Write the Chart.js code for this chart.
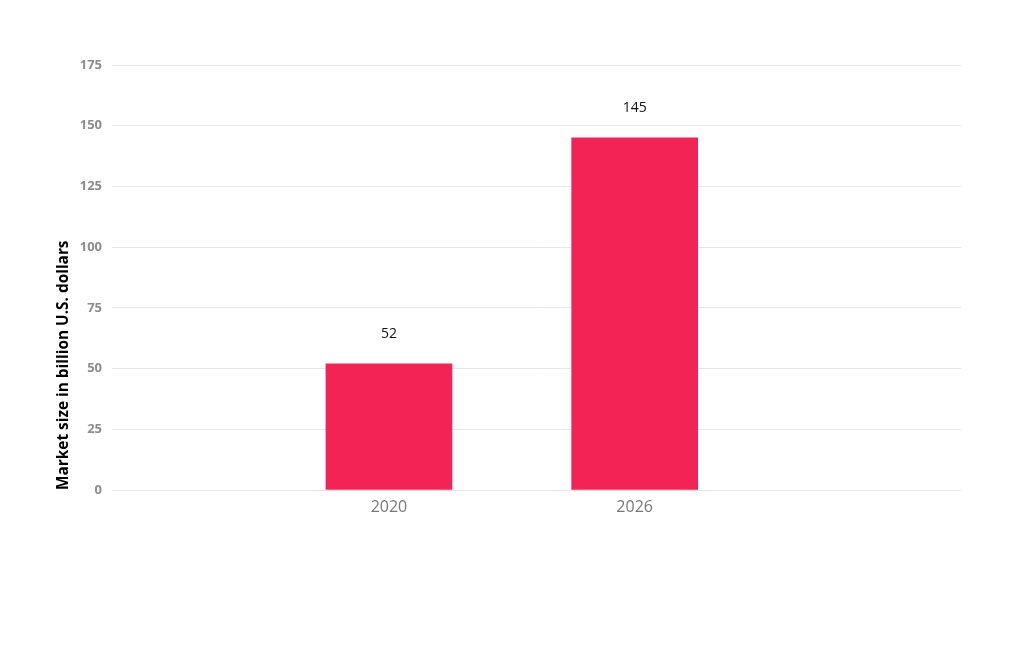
<!DOCTYPE html>
<html>
<head>
<meta charset="utf-8">
<script src="https://cdn.jsdelivr.net/npm/chart.js@4/dist/chart.umd.min.js"></script>
<style>
  html, body { margin: 0; padding: 0; background: #fff; }
  #wrap { width: 1024px; height: 646px; }
</style>
</head>
<body>
<div id="wrap"><canvas id="marketChart"></canvas></div>
<script>
let years = ['2020', '2026'];
let marketSize = [52, 145];
let yTicks = [0, 25, 50, 75, 100, 125, 150, 175];

let fontName = "'Open Sans', 'Liberation Sans', sans-serif";

// value labels above each bar
let barLabels = {
    id: 'barLabels',
    afterDatasetsDraw(chart) {
        let ctx = chart.ctx;
        let meta = chart.getDatasetMeta(0);
        ctx.save();
        ctx.font = '14px ' + fontName;
        ctx.fillStyle = '#111';
        ctx.textAlign = 'center';
        ctx.textBaseline = 'middle';
        meta.data.forEach((bar, i) => {
            ctx.fillText(String(marketSize[i]), bar.x, bar.y - 30);
        });
        ctx.restore();
    }
};

new Chart(document.getElementById('marketChart'), {
    type: 'bar',
    data: {
        datasets: [{
            data: years.map((y, i) => ({ x: i, y: marketSize[i] })),
            backgroundColor: '#f42355',
            borderWidth: 0,
            barThickness: 126
        }]
    },
    options: {
        responsive: true,
        maintainAspectRatio: false,
        animation: false,
        layout: {
            padding: { left: 50, right: 63, top: 65, bottom: 0 }
        },
        plugins: {
            legend: { display: false },
            tooltip: { enabled: false }
        },
        scales: {
            x: {
                type: 'linear',
                offset: false,
                min: -1.127,
                max: 2.328,
                grid: { display: false },
                border: { display: false },
                afterBuildTicks: (scale) => {
                    scale.ticks = years.map((y, i) => ({ value: i }));
                },
                afterFit: (scale) => { scale.height = 156; },
                ticks: {
                    autoSkip: false,
                    maxRotation: 0,
                    padding: 0,
                    color: '#777',
                    font: { family: fontName, size: 16 },
                    callback: (v) => years[v]
                }
            },
            y: {
                min: 0,
                max: 175,
                afterBuildTicks: (scale) => {
                    scale.ticks = yTicks.map(v => ({ value: v }));
                },
                afterFit: (scale) => { scale.width = 62; },
                grid: { color: '#e6e6e6', lineWidth: 1, drawTicks: false },
                border: { display: false },
                ticks: {
                    padding: 10,
                    color: '#8c8c8c',
                    font: { family: fontName, size: 13, weight: 'bold' }
                },
                title: {
                    display: true,
                    text: 'Market size in billion U.S. dollars',
                    align: 'start',
                    color: '#000',
                    padding: { top: 4, bottom: 4 },
                    font: { family: fontName, size: 15.4, weight: 'bold' }
                }
            }
        }
    },
    plugins: [barLabels]
});
</script>
</body>
</html>
